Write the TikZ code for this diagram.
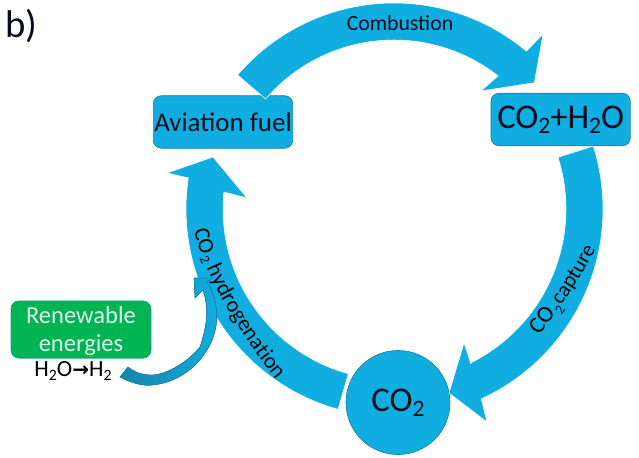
\documentclass[tikz,border=0pt]{standalone}
\usepackage{graphicx}
\usepackage{fontspec}
\setmainfont{Carlito}
\newfontfamily\arrowfont{DejaVu Sans}
\usetikzlibrary{decorations.text}
\definecolor{ringblue}{HTML}{10AEE0}
\definecolor{edgeblue}{HTML}{1A7FA5}
\definecolor{leafgreen}{HTML}{00B454}
\definecolor{edgeteal}{HTML}{1AA5A0}
\definecolor{inkdark}{HTML}{060C1C}
\newcommand{\subtwo}{\raisebox{-.3ex}{\scalebox{.68}{2}}}
\newcommand{\fs}[1]{\fontsize{#1}{#1}\selectfont}
\newcommand{\fsA}{\fontsize{16.6}{16.6}\selectfont}
\newcommand{\fsC}{\fontsize{16}{16}\selectfont}
\newcommand{\fsD}{\fontsize{17.5}{17.5}\selectfont}
\tikzset{
  x=0.75pt,y=-0.75pt,
  ringarrow/.style={fill=ringblue,draw=white,line width=.4pt,line join=miter},
  procbox/.style={rectangle,rounded corners=6pt,fill=ringblue,draw=edgeblue,line width=.5pt,
    minimum width=104.5pt,minimum height=39.4pt,inner sep=0pt,text=inkdark},
  statecircle/.style={circle,fill=ringblue,draw=edgeblue,line width=.5pt,minimum size=78pt,inner sep=0pt,text=inkdark},
  greenbox/.style={rectangle,rounded corners=6pt,fill=leafgreen,draw=edgeteal,line width=.5pt,
    minimum width=105pt,minimum height=43pt,inner sep=0pt},
  labeltext/.style={text=inkdark,inner sep=0pt},
}
\newcommand{\outpath}[4]{plot[domain=#1:#2,samples=#3,smooth] ({394+#4*cos(\x)},{209+#4*sin(\x)})}
\begin{document}
\begin{tikzpicture}
\useasboundingbox (0,0) rectangle (639,457);
% nodes
\node[procbox,font=\fs{20.2}] (fuel) at (223,122) {Aviation fuel};
\node[procbox,font=\fs{26}] (mix) at (560.7,119.5) {CO\subtwo+H\subtwo O};
\node[statecircle,font=\fs{26}] (co2) at (398,402.5) {CO\subtwo};
\node[greenbox] (green) at (81,329.5) {};
\node[text=white!88!leafgreen,font=\fs{18.4},inner sep=0pt,align=center] (renew) at (81,331) {Renewable\\[3pt]energies};
\node[inner sep=0pt,text=black,font=\fs{17.4}] (wat) at (73,371) {H\subtwo O{\arrowfont\bfseries\fs{15}→}H\subtwo};
\node[inner sep=0pt,anchor=base west,text=inkdark,font=\fs{29}] (blabel) at (5,37) {b)};
% combustion arrow
\filldraw[ringarrow] \outpath{220.6}{310}{40}{206} -- (543,34) -- (534.3,82.7) -- (481,91) -- (498,76)
  -- plot[domain=308:220.6,samples=40,smooth] ({394+169*cos(\x)},{209+169*sin(\x)}) -- cycle;
% capture arrow
\filldraw[ringarrow] \outpath{-17.5}{65.3}{40}{209} -- (487,422) -- (449,393) -- (464,343) -- (471,364)
  -- plot[domain=63.6:-17.5,samples=40,smooth] ({394+172*cos(\x)},{209+172*sin(\x)}) -- cycle;
% hydrogenation arrow
\filldraw[ringarrow] \outpath{105.6}{188.6}{40}{208} -- (167,173) -- (213,157) -- (247,198) -- (224,192)
  -- plot[domain=185.7:105.5,samples=40,smooth] ({394+171*cos(\x)},{209+171*sin(\x)}) -- cycle;
% renewable feed arrow
\filldraw[left color=edgeblue!90!ringblue,right color=ringblue,draw=edgeblue,line width=.5pt]
  (120,377) .. controls (133,384) and (145,386) .. (152,385)
  .. controls (190,382) and (222,345) .. (216,307)
  .. controls (215,297) and (211,288) .. (207,282)
  -- (212,278) -- (194,278) -- (195,298) -- (203,290)
  .. controls (208,305) and (209,320) .. (200,347)
  .. controls (188,362) and (165,376) .. (150,375)
  .. controls (142,375) and (134,372) .. (128,367) -- cycle;
\node[labeltext,font=\fs{16.3}] (comb) at (400,23) {Combustion};
% text along the ring
\path[decorate,decoration={text along path,text={|\fsA|CO}}]
  (194,230) .. controls (206,280) and (240,335) .. (284,390);
\node[labeltext,font=\fs{10.5},rotate=-66] (subh) at (205,260) {2};
\path[decorate,decoration={text along path,text align={left indent=30pt},text={|\fsA|hydrogenation}}]
  (194,230) .. controls (206,280) and (240,335) .. (284,390);
\path[decorate,decoration={text along path,text={|\fsD|CO}}]
  (539,335) .. controls (556,313) and (582,278) .. (600,240);
\node[labeltext,font=\fs{10.5},rotate=55] (subc) at (560,310) {2};
\path[decorate,decoration={text along path,text align={left indent=27.5pt},text={|\fsC|capture}}]
  (539,335) .. controls (556,313) and (582,278) .. (600,240);
\end{tikzpicture}
\end{document}
